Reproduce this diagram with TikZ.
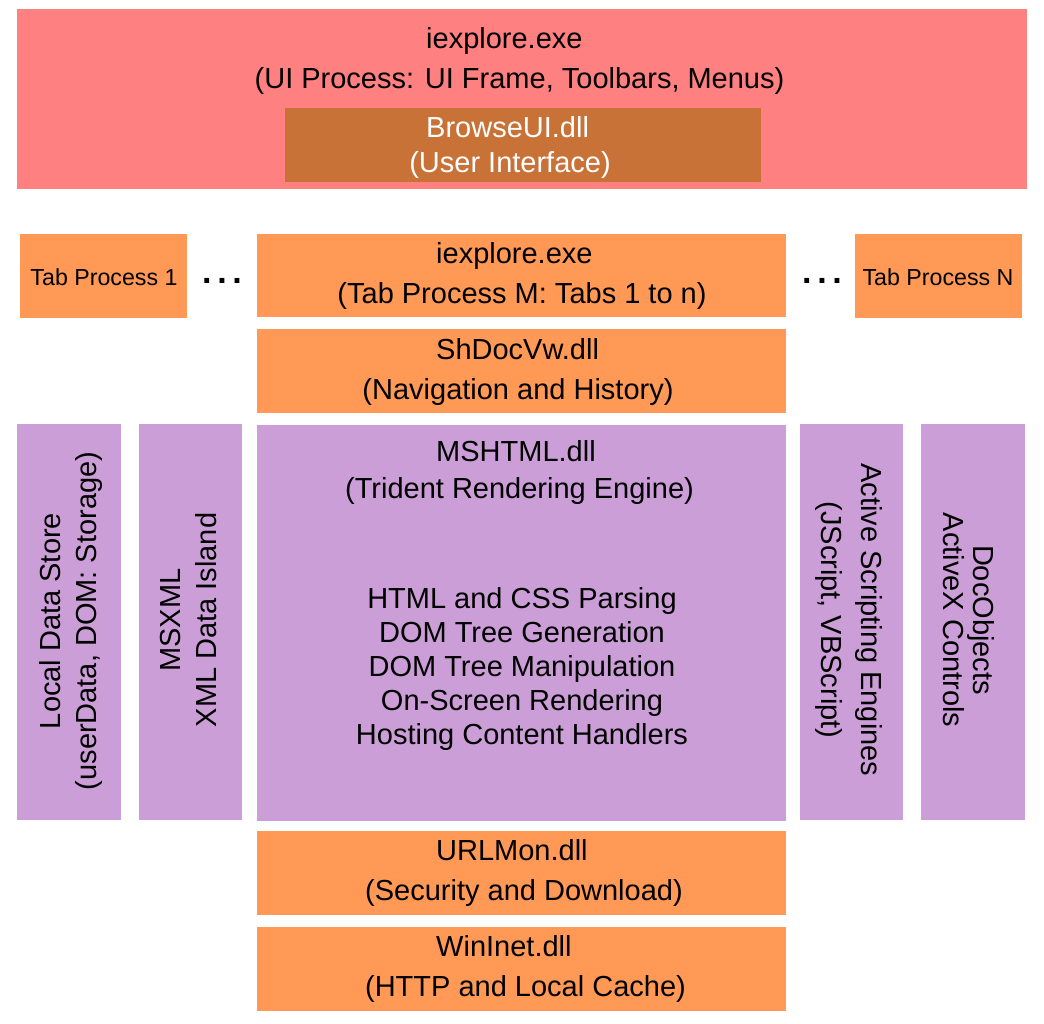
\documentclass[tikz,border=0pt]{standalone}
\usepackage{fontspec}
\setmainfont{Liberation Sans}
\definecolor{uired}{RGB}{255,128,128}
\definecolor{uibrown}{RGB}{200,114,55}
\definecolor{taborange}{RGB}{255,153,85}
\definecolor{purp}{RGB}{204,158,216}
\begin{document}
\begin{tikzpicture}[x=1pt,y=-1pt,
  blk/.style={inner sep=0pt, outer sep=0pt, draw=none},
  big/.style={font=\fontsize{29}{40}\selectfont, align=center, inner sep=0pt},
  ln/.style={font=\fontsize{29}{34}\selectfont, inner sep=0pt, anchor=base},
  lnw/.style={ln, anchor=base west},
  small/.style={font=\fontsize{23.2}{27}\selectfont, align=center, inner sep=0pt}]
\useasboundingbox[fill=white] (0,0) rectangle (1044,1024);
% boxes
\newcommand{\bx}[6]{\node[blk, fill=#6, minimum width={#4-#2}, minimum height={#5-#3}] (#1) at ({(#2+#4)/2},{(#3+#5)/2}) {};}
\bx{ui}{17}{9}{1027}{189}{uired}
\bx{bui}{285}{108}{761}{182}{uibrown}
\bx{tab1}{20}{234}{187}{318}{taborange}
\bx{tabm}{257}{234}{786}{317}{taborange}
\bx{tabn}{855}{234}{1022}{318}{taborange}
\bx{shdoc}{257}{329}{786}{413}{taborange}
\bx{mshtml}{257}{425}{786}{821}{purp}
\bx{lds}{17}{424}{121}{820}{purp}
\bx{msxml}{139}{424}{242}{820}{purp}
\bx{ase}{800}{424}{903}{820}{purp}
\bx{docobj}{921}{424}{1025}{820}{purp}
\bx{urlmon}{257}{831}{786}{915}{taborange}
\bx{wininet}{257}{927}{786}{1011}{taborange}
% texts
\node[lnw] (uit) at (426,48.5) {iexplore.exe};
\node[ln] (uit2) at (519.5,88.5) {(UI Process: UI Frame, Toolbars, Menus)};
\node[lnw, text=white] (buit) at (426,138) {BrowseUI.dll};
\node[ln, text=white] (buit2) at (510,173) {(User Interface)};
\node[small] (tab1t) at (104,277) {Tab Process 1};
\node[small] (tabnt) at (938,277) {Tab Process N};
\node[lnw] (tabmt) at (436,263.5) {iexplore.exe};
\node[ln] (tabmt2) at (522,303.5) {(Tab Process M: Tabs 1 to n)};
\node[lnw] (shdoct) at (436,359.5) {ShDocVw.dll};
\node[ln] (shdoct2) at (518,399.5) {(Navigation and History)};
\node[lnw] (mst) at (436,461) {MSHTML.dll};
\node[ln] (mst2) at (519.5,498) {(Trident Rendering Engine)};
\node[big, font=\fontsize{29}{34}\selectfont] (msl) at (522,669) {HTML and CSS Parsing\\DOM Tree Generation\\DOM Tree Manipulation\\On-Screen Rendering\\Hosting Content Handlers};
\node[lnw] (urlt) at (436,860.5) {URLMon.dll};
\node[ln] (urlt2) at (524,900.5) {(Security and Download)};
\node[lnw] (wint) at (436,956.5) {WinInet.dll};
\node[ln] (wint2) at (525.5,996.5) {(HTTP and Local Cache)};
\node[big, rotate=90, font=\fontsize{29}{36}\selectfont] (ldst) at (71,621) {Local Data Store\\(userData, DOM: Storage)};
\node[big, rotate=90, font=\fontsize{29}{36}\selectfont] (msxt) at (189,620) {MSXML\\XML Data Island};
\node[big, rotate=-90, font=\fontsize{29}{40}\selectfont] (aset) at (849,620) {Active Scripting Engines\\(JScript, VBScript)};
\node[big, rotate=-90, font=\fontsize{29}{30}\selectfont] (doct) at (969,620) {DocObjects\\ActiveX Controls};
\node[big, anchor=base, font=\fontsize{34}{34}\bfseries] (dl) at (222,284) {.\,.\,.};
\node[big, anchor=base, font=\fontsize{34}{34}\bfseries] (dr) at (822,284) {.\,.\,.};
\end{tikzpicture}
\end{document}
